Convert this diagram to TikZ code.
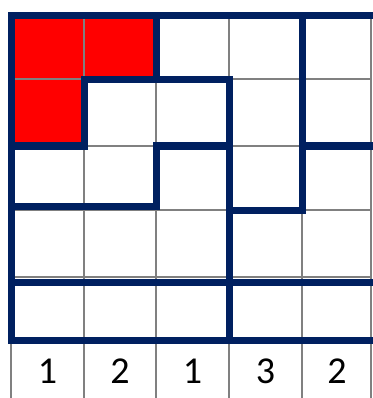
\documentclass[tikz,border=0pt]{standalone}
\usepackage{fontspec}
\setmainfont{Carlito}
\definecolor{navy}{RGB}{0,32,96}
\definecolor{cellred}{RGB}{255,0,0}
\begin{document}
\begin{tikzpicture}[x=1pt,y=-1pt,line join=miter,line cap=rect]
			\tikzset{wall/.style={navy,line width=7pt},
				grid/.style={gray,line width=1.3pt,line cap=butt},
				clue/.style={font=\fontsize{38}{40}\selectfont,inner sep=0pt}}
			\useasboundingbox (0,0) rectangle (372,398);
			\fill[white] (0,0) rectangle (372,398);
			\fill[cellred] (11,16) rectangle (156,80);
			\fill[cellred] (11,80) rectangle (84,146);
			\foreach \x in {11,84,156,229,302,371}
			\draw[grid] (\x,16)--(\x,398);
			\foreach \y in {16,79,146,210,277,340}
			\draw[grid] (11,\y)--(372,\y);
			\draw[wall] (11,340)--(11,16)--(372,16);
			\draw[wall] (11,340)--(372,340);
			\draw[wall] (11,282)--(372,282);
			\draw[wall] (11,146)--(84,146)--(84,80)--(229,80)--(229,340);
			\draw[wall] (156,16)--(156,80);
			\draw[wall] (11,206)--(156,206)--(156,146)--(229,146);
			\draw[wall] (302,16)--(302,210)--(229,210);
			\draw[wall] (302,146)--(372,146);
			\foreach \x/\n/\k in {47.5/1/a,120/2/b,192.5/1/c,265.5/3/d,337/2/e}
			\node[clue] (clue\k) at (\x,371) {\n};
		\end{tikzpicture}
\end{document}
